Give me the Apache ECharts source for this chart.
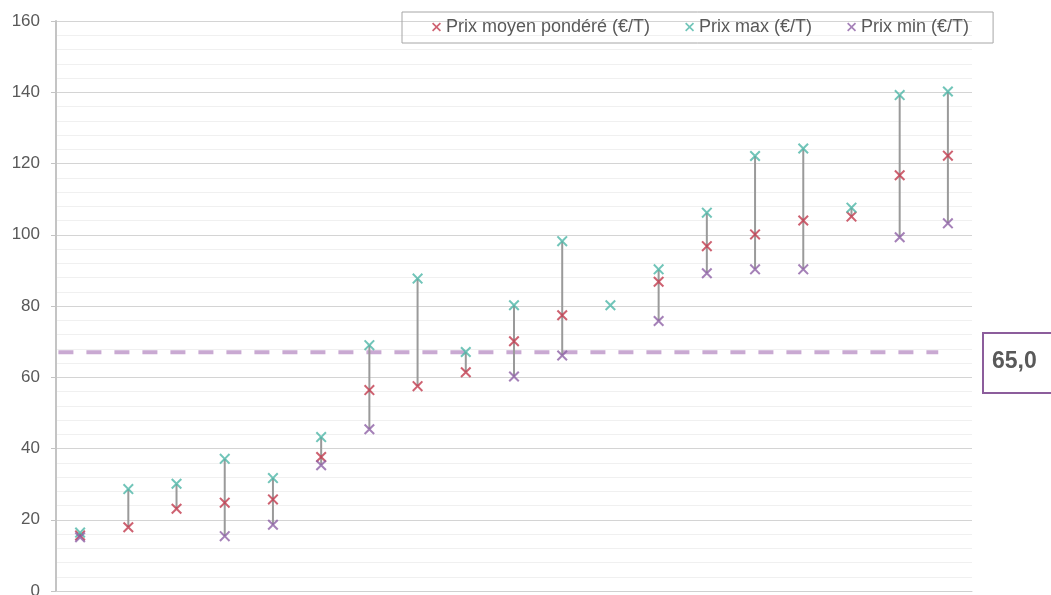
<!DOCTYPE html>
<html>
<head>
<meta charset="utf-8">
<script src="https://cdn.jsdelivr.net/npm/echarts@6/dist/echarts.min.js"></script>
<style>
  html, body { margin: 0; padding: 0; background: #fff; }
  #chart { width: 1051px; height: 595px; }
</style>
</head>
<body>
<div id="chart"></div>
<script>
// one entry per site, sorted by price
const categories = ['1', '2', '3', '4', '5', '6', '7', '8', '9', '10', '11', '12', '13', '14', '15', '16', '17', '18', '19']
const meanVals = [15.6, 17.9, 23.1, 24.8, 25.7, 37.6, 56.4, 57.5, 61.4, 70.1, 77.4, null, 86.8, 96.8, 100.1, 104.0, 105.1, 116.7, 122.2]
const maxVals = [16.4, 28.6, 30.1, 37.1, 31.7, 43.2, 69.0, 87.7, 67.1, 80.2, 98.2, 80.2, 90.3, 106.2, 122.1, 124.2, 107.6, 139.2, 140.2]
const minVals = [15.1, null, null, 15.4, 18.6, 35.3, 45.4, null, null, 60.2, 66.1, null, 75.8, 89.2, 90.3, 90.3, null, 99.3, 103.2]
const seriesNames = ['Prix moyen pondéré (€/T)', 'Prix max (€/T)', 'Prix min (€/T)']
const yTicks = [0, 20, 40, 60, 80, 100, 120, 140, 160]

// reference (dashed) line
const refValue = 67
const refSpan = [0.05, 18.3]
const refLabel = '65,0'

const colors = {
  mean: '#c23b4d',
  max: '#4db6a8',
  min: '#8e62a6',
  range: '#9a9a9a',
  ref: '#c9a9d2'
}

const crossIcon = 'path://M0,1.3L1.3,0L5,3.7L8.7,0L10,1.3L6.3,5L10,8.7L8.7,10L5,6.3L1.3,10L0,8.7L3.7,5Z'

const rangeData = categories.map((c, i) => {
  const low = minVals[i] ?? meanVals[i] ?? maxVals[i]
  return [i, low, maxVals[i]]
})

const chart = echarts.init(document.getElementById('chart'))

function scatter(name, data, color) {
  return {
    name,
    type: 'scatter',
    data,
    symbol: crossIcon,
    symbolSize: 11,
    itemStyle: { color },
    z: 3
  }
}

chart.setOption({
  animation: false,
  textStyle: { fontFamily: 'Liberation Sans, Arial, sans-serif' },
  grid: { left: 56, right: 79, top: 21, bottom: 4, outerBoundsMode: 'none' },
  legend: {
    data: seriesNames,
    left: 402,
    top: 12,
    padding: [6, 24, 7, 30],
    itemGap: 35,
    itemWidth: 9,
    itemHeight: 9,
    borderColor: '#a6a6a6',
    borderWidth: 1,
    textStyle: { color: '#595959', fontSize: 18 }
  },
  xAxis: [
    {
      type: 'category',
      data: categories,
      axisLine: { lineStyle: { color: '#d0d0d0' } },
      axisTick: { show: false },
      axisLabel: { show: false }
    },
    {
      type: 'value',
      min: 0,
      max: categories.length,
      show: false
    }
  ],
  yAxis: {
    type: 'value',
    min: yTicks[0],
    max: yTicks[yTicks.length - 1],
    interval: 20,
    axisLine: { show: true, lineStyle: { color: '#c4c4c4', width: 2 } },
    axisTick: { show: true, inside: false, length: 5, lineStyle: { color: '#c4c4c4' } },
    axisLabel: { color: '#595959', fontSize: 17, margin: 16 },
    splitLine: { lineStyle: { color: '#d4d4d4' } },
    minorTick: { show: false, splitNumber: 5 },
    minorSplitLine: { show: true, lineStyle: { color: '#f0f0f0' } }
  },
  series: [
    {
      type: 'custom',
      name: 'range',
      data: rangeData,
      z: 2,
      renderItem(params, api) {
        const p1 = api.coord([api.value(0), api.value(1)])
        const p2 = api.coord([api.value(0), api.value(2)])
        return {
          type: 'line',
          shape: { x1: p1[0], y1: p1[1], x2: p2[0], y2: p2[1] },
          style: { stroke: colors.range, lineWidth: 2 }
        }
      }
    },
    {
      type: 'line',
      name: 'ref',
      xAxisIndex: 1,
      data: [[refSpan[0], refValue], [refSpan[1], refValue]],
      symbol: 'none',
      lineStyle: { color: colors.ref, width: 4, type: [15, 13] },
      z: 1
    },
    scatter(seriesNames[0], meanVals, colors.mean),
    scatter(seriesNames[1], maxVals, colors.max),
    scatter(seriesNames[2], minVals, colors.min)
  ],
  graphic: [
    {
      type: 'rect',
      left: 982,
      top: 332,
      shape: { width: 90, height: 60 },
      style: { fill: '#fff', stroke: '#8c5d9c', lineWidth: 2 }
    },
    {
      type: 'text',
      left: 992,
      top: 350,
      style: {
        text: refLabel,
        fill: '#595959',
        font: 'bold 23px Liberation Sans, Arial, sans-serif'
      }
    }
  ]
})
</script>
</body>
</html>
